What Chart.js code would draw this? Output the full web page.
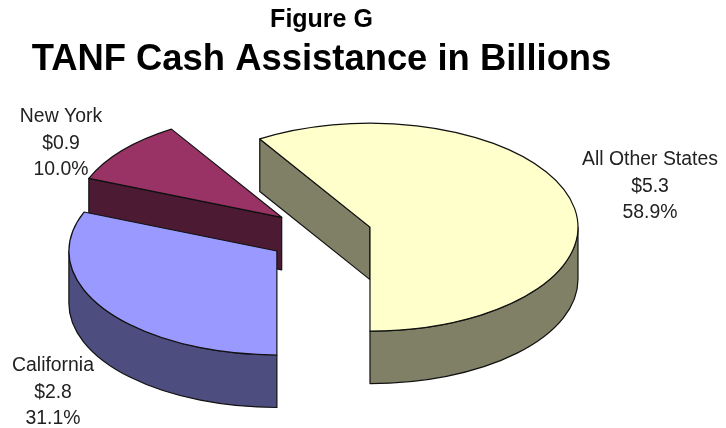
<!DOCTYPE html>
<html>
<head>
<meta charset="utf-8">
<title>TANF Cash Assistance</title>
<script src="https://cdn.jsdelivr.net/npm/chart.js@4/dist/chart.umd.min.js"></script>
<style>
  html, body { margin: 0; background: #fff; }
  canvas { display: block; }
</style>
</head>
<body>
<canvas id="pie" width="726" height="428"></canvas>
<script>
const categories = ['All Other States', 'California', 'New York'];
const billions = [5.3, 2.8, 0.9];
const shares = ['58.9%', '31.1%', '10.0%'];

const topColors = ['#FFFFCC', '#9999FF', '#993366'];
const sideColors = ['#808066', '#4D4D80', '#4D1A33'];
const explode = [52, 52, 50];
const labelSpots = [[650, 165], [53, 371], [61, 122]];

const FONT = '"Liberation Sans", Arial, sans-serif';

// tilted pie: arcs come from the doughnut controller, this only projects them
const tiltedPie = {
    id: 'tiltedPie',
    beforeDatasetsDraw(chart, args, opts) {
        const ctx = chart.ctx;
        const arcs = chart.getDatasetMeta(0).data;
        const order = arcs.map((a, i) => i).sort((p, q) => {
            const mid = i => (arcs[i].startAngle + arcs[i].endAngle) / 2;
            return Math.sin(mid(p)) - Math.sin(mid(q));
        });

        ctx.save();
        ctx.lineWidth = opts.lineWidth;
        ctx.strokeStyle = opts.lineColor;
        ctx.lineJoin = 'round';

        order.forEach(i => {
            const arc = arcs[i];
            const r = arc.outerRadius;
            const ry = r * opts.squash;
            const mid = (arc.startAngle + arc.endAngle) / 2;
            const off = arc.options.offset;
            const px = opts.cx + off * Math.cos(mid);
            const py = opts.cy + off * Math.sin(mid) * opts.offsetSquash;
            const rim = a => [px + r * Math.cos(a), py + ry * Math.sin(a)];

            const fillStroke = color => {
                ctx.fillStyle = color;
                ctx.fill();
                ctx.stroke();
            };

            // cut faces, only the ones turned to the viewer
            [[arc.startAngle, Math.cos(arc.startAngle) < -0.001],
             [arc.endAngle, Math.cos(arc.endAngle) > 0.001]].forEach(([a, visible]) => {
                if (!visible) return;
                const [x, y] = rim(a);
                ctx.beginPath();
                ctx.moveTo(px, py);
                ctx.lineTo(x, y);
                ctx.lineTo(x, y + opts.depth);
                ctx.lineTo(px, py + opts.depth);
                ctx.closePath();
                fillStroke(sideColors[i]);
            });

            // outer wall, front half of the rim only
            const lo = Math.max(arc.startAngle, 0);
            const hi = Math.min(arc.endAngle, Math.PI);
            if (hi > lo) {
                ctx.beginPath();
                ctx.ellipse(px, py, r, ry, 0, lo, hi);
                ctx.ellipse(px, py + opts.depth, r, ry, 0, hi, lo, true);
                ctx.closePath();
                fillStroke(sideColors[i]);
            }

            // top face
            ctx.beginPath();
            ctx.moveTo(px, py);
            ctx.ellipse(px, py, r, ry, 0, arc.startAngle, arc.endAngle);
            ctx.closePath();
            fillStroke(arc.options.backgroundColor);
        });

        // three line labels
        ctx.fillStyle = opts.textColor;
        ctx.font = opts.labelFont;
        ctx.textAlign = 'center';
        ctx.textBaseline = 'alphabetic';
        categories.forEach((name, i) => {
            const [x, y] = labelSpots[i];
            ctx.fillText(name, x, y);
            ctx.fillText('$' + billions[i].toFixed(1), x, y + 26.5);
            ctx.fillText(shares[i], x, y + 53);
        });
        ctx.restore();
        return false;
    }
};

new Chart(document.getElementById('pie'), {
    type: 'pie',
    data: {
        labels: categories,
        datasets: [{
            data: billions,
            backgroundColor: topColors,
            offset: explode,
            borderWidth: 0
        }]
    },
    options: {
        responsive: false,
        animation: false,
        events: [],
        rotation: -32,
        radius: 208,
        layout: { padding: { right: 83 } },
        plugins: {
            legend: { display: false },
            tooltip: { enabled: false },
            title: {
                display: true,
                text: 'Figure G',
                fullSize: false,
                color: '#000',
                font: { family: FONT, size: 25, weight: 'bold' },
                padding: { top: 5, bottom: 0 }
            },
            subtitle: {
                display: true,
                text: 'TANF Cash Assistance in Billions',
                fullSize: false,
                color: '#000',
                font: { family: FONT, size: 36.4, weight: 'bold' },
                padding: { top: 3, bottom: 0 }
            },
            tiltedPie: {
                cx: 320,
                cy: 235,
                squash: 0.5,
                offsetSquash: 0.55,
                depth: 52.5,
                lineWidth: 1.2,
                lineColor: '#111',
                textColor: '#222',
                labelFont: '19.4px ' + FONT
            }
        }
    },
    plugins: [tiltedPie]
});
</script>
</body>
</html>
